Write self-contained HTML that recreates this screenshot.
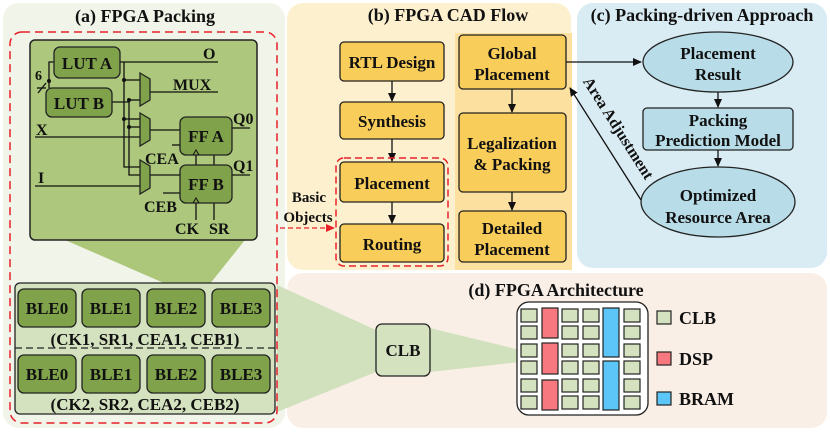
<!DOCTYPE html>
<html><head><meta charset="utf-8"><style>
html,body{margin:0;padding:0;background:#fff}
svg text{font-family:"Liberation Serif","Times New Roman","DejaVu Serif",serif;font-weight:bold}
</style></head><body>
<svg width="830" height="431" viewBox="0 0 830 431" xmlns="http://www.w3.org/2000/svg" font-family="Liberation Serif, serif" font-weight="bold">
<defs>
<marker id="ar" markerWidth="10" markerHeight="10" refX="8" refY="5" orient="auto" markerUnits="userSpaceOnUse"><path d="M0,1 L9,5 L0,9 Z" fill="#111"/></marker>
<marker id="arr" markerWidth="10" markerHeight="10" refX="8" refY="5" orient="auto" markerUnits="userSpaceOnUse"><path d="M0,1 L9,5 L0,9 Z" fill="#e8202a"/></marker>
</defs>
<rect x="3" y="3" width="282" height="425" rx="16" fill="#f1f4e8"/>
<rect x="287" y="3" width="284" height="267" rx="16" fill="#fdf0cf"/>
<rect x="577" y="3" width="250" height="265" rx="16" fill="#d9ecf3"/>
<rect x="287" y="273" width="540" height="155" rx="16" fill="#faefe7"/>
<path d="M455,33 L572,33 L572,270 L455,270 Z" fill="#fbe0a0"/>

<polygon points="277,285 376,330 376,372 277,412" fill="#d2e1bd"/>
<polygon points="430,328 520,350 520,362 430,372" fill="#d2e1bd"/>

<text x="145" y="22" font-size="18" text-anchor="middle" fill="#111">(a) FPGA Packing</text>
<polygon points="65,240 245,240 205,290 180,290" fill="#adc77a"/>
<rect x="15" y="283" width="260" height="131" rx="5" fill="#d5e2c0" stroke="#222" stroke-width="1.3"/>
<rect x="30" y="40" width="227" height="200" rx="5" fill="#adc87c" stroke="#222" stroke-width="1.5"/>
<g stroke="#111" stroke-width="1.3" fill="none">
<path d="M120,62 H218"/><path d="M124,62 V167 H140"/><path d="M112,102 H129 V175 H140"/>
<path d="M124,80 H140"/><path d="M129,100 H140"/><path d="M124,119 H140"/><path d="M129,127 H140"/>
<path d="M150,92 H218"/><path d="M35,137 H140"/><path d="M150,130 H180"/><path d="M35,186 H140"/><path d="M150,175 H180"/>
<path d="M232,128 H250"/><path d="M232,175 H250"/><path d="M172,145 H180"/><path d="M163,193 H180"/>
<path d="M196,155 V165"/><path d="M214,155 V165"/><path d="M196,203 V220"/><path d="M214,203 V220"/>
<path d="M54,62 H49 V88"/><path d="M37,88 H46"/><path d="M38,93 L46,83"/>
</g>
<g fill="#111"><circle cx="124" cy="80" r="2"/><circle cx="129" cy="100" r="2"/><circle cx="124" cy="119" r="2"/><circle cx="129" cy="127" r="2"/><circle cx="49" cy="81" r="2"/></g>
<g fill="#7fa24a" stroke="#222" stroke-width="1.3">
<rect x="54" y="47" width="66" height="31" rx="6"/>
<rect x="46" y="88" width="66" height="29" rx="6"/>
<polygon points="140,73 150,79 150,100 140,106"/>
<polygon points="140,113 150,119 150,140 140,146"/>
<polygon points="140,160 150,166 150,188 140,194"/>
<rect x="180" y="117" width="52" height="38" rx="6"/>
<rect x="180" y="165" width="52" height="38" rx="6"/>
</g>
<g stroke="#111" stroke-width="1" fill="none"><path d="M193,155 L196,150 L199,155"/><path d="M193,203 L196,198 L199,203"/></g>
<g font-size="17" fill="#111" text-anchor="middle">
<text x="87" y="69">LUT A</text><text x="79" y="109">LUT B</text>
<text x="206" y="142">FF A</text><text x="206" y="190">FF B</text>
</g>
<g font-size="16" fill="#111">
<text x="203" y="59">O</text><text x="173" y="90">MUX</text><text x="233" y="124">Q0</text><text x="233" y="171">Q1</text>
<text x="36" y="135">X</text><text x="38" y="183">I</text><text x="35" y="80" font-size="14">6</text>
<text x="145" y="164">CEA</text><text x="144" y="212">CEB</text><text x="175" y="234">CK</text><text x="209" y="234">SR</text>
</g>
<g fill="#7fa24a" stroke="#222" stroke-width="1.3">
<rect x="18" y="289" width="58" height="38" rx="6"/><rect x="82" y="289" width="58" height="38" rx="6"/><rect x="147" y="289" width="58" height="38" rx="6"/><rect x="212" y="289" width="58" height="38" rx="6"/>
<rect x="18" y="355" width="58" height="38" rx="6"/><rect x="82" y="355" width="58" height="38" rx="6"/><rect x="147" y="355" width="58" height="38" rx="6"/><rect x="212" y="355" width="58" height="38" rx="6"/>
</g>
<g font-size="17" fill="#111" text-anchor="middle">
<text x="47" y="314">BLE0</text><text x="111" y="314">BLE1</text><text x="176" y="314">BLE2</text><text x="241" y="314">BLE3</text>
<text x="47" y="380">BLE0</text><text x="111" y="380">BLE1</text><text x="176" y="380">BLE2</text><text x="241" y="380">BLE3</text>
<text x="145" y="345">(CK1, SR1, CEA1, CEB1)</text>
<text x="145" y="410">(CK2, SR2, CEA2, CEB2)</text>
</g>
<path d="M15,348 H275" stroke="#222" stroke-width="1.3" stroke-dasharray="7,4"/>
<rect x="10" y="32" width="267" height="391" rx="12" fill="none" stroke="#e8202a" stroke-width="1.5" stroke-dasharray="8,5"/>

<text x="448" y="21" font-size="18" text-anchor="middle" fill="#111">(b)  FPGA CAD Flow</text>
<g fill="#f9cd5a" stroke="#222" stroke-width="1.3">
<rect x="340" y="42" width="104" height="39" rx="4"/><rect x="340" y="102" width="104" height="37" rx="4"/>
<rect x="340" y="162" width="104" height="40" rx="4"/><rect x="340" y="224" width="104" height="38" rx="4"/>
<rect x="459" y="35" width="107" height="54" rx="4"/><rect x="459" y="113" width="107" height="79" rx="4"/><rect x="459" y="211" width="107" height="51" rx="4"/>
</g>
<g stroke="#111" stroke-width="1.3" marker-end="url(#ar)">
<path d="M392,81 V101"/><path d="M392,139 V161"/><path d="M392,202 V223"/><path d="M512,89 V112"/><path d="M512,192 V210"/>
</g>
<g font-size="17" fill="#111" text-anchor="middle">
<text x="392" y="68">RTL Design</text><text x="392" y="127">Synthesis</text><text x="392" y="189">Placement</text><text x="392" y="250">Routing</text>
<text x="512" y="59">Global</text><text x="512" y="80">Placement</text>
<text x="512" y="149">Legalization</text><text x="512" y="170">&amp; Packing</text>
<text x="512" y="234">Detailed</text><text x="512" y="255">Placement</text>
</g>
<rect x="336" y="158" width="112" height="108" rx="8" fill="none" stroke="#e8202a" stroke-width="1.5" stroke-dasharray="7,4"/>
<g font-size="15" fill="#111" text-anchor="middle"><text x="309" y="202">Basic</text><text x="308" y="222">Objects</text></g>
<path d="M280,228 H334" stroke="#e8202a" stroke-width="1.3" stroke-dasharray="5,3" marker-end="url(#arr)"/>

<text x="702" y="21" font-size="18" text-anchor="middle" fill="#111">(c)  Packing-driven Approach</text>
<g fill="#b9dde8" stroke="#222" stroke-width="1.3">
<ellipse cx="718" cy="62" rx="75" ry="30"/>
<rect x="643" y="108" width="150" height="42" rx="4"/>
<ellipse cx="718" cy="202" rx="77" ry="35"/>
</g>
<g stroke="#111" stroke-width="1.3" marker-end="url(#ar)">
<path d="M566,62 H641"/><path d="M718,92 V107"/><path d="M718,150 V166"/><path d="M641,200 L570,88"/>
</g>
<g font-size="17" fill="#111" text-anchor="middle">
<text x="718" y="59">Placement</text><text x="718" y="80">Result</text>
<text x="718" y="126">Packing</text><text x="718" y="146">Prediction Model</text>
<text x="718" y="201">Optimized</text><text x="718" y="223">Resource  Area</text>
</g>
<text x="0" y="0" font-size="16" fill="#111" text-anchor="middle" transform="translate(614,131) rotate(57.6)">Area Adjustment</text>

<text x="556" y="296" font-size="18" text-anchor="middle" fill="#111">(d) FPGA Architecture</text>
<rect x="376" y="324" width="54" height="52" rx="6" fill="#d5e2c0" stroke="#222" stroke-width="1.3"/>
<text x="403" y="356" font-size="17" text-anchor="middle" fill="#111">CLB</text>
<rect x="517" y="302" width="131" height="113" rx="12" fill="#fff" stroke="#222" stroke-width="1.3"/>
<g fill="#d5e2c0" stroke="#222" stroke-width="1.2">
<rect x="521" y="309" width="16" height="13"/><rect x="521" y="326" width="16" height="13"/><rect x="521" y="344" width="16" height="13"/><rect x="521" y="361" width="16" height="13"/><rect x="521" y="379" width="16" height="13"/><rect x="521" y="396" width="16" height="13"/>
<rect x="562" y="309" width="16" height="13"/><rect x="562" y="326" width="16" height="13"/><rect x="562" y="344" width="16" height="13"/><rect x="562" y="361" width="16" height="13"/><rect x="562" y="379" width="16" height="13"/><rect x="562" y="396" width="16" height="13"/>
<rect x="583" y="309" width="16" height="13"/><rect x="583" y="326" width="16" height="13"/><rect x="583" y="344" width="16" height="13"/><rect x="583" y="361" width="16" height="13"/><rect x="583" y="379" width="16" height="13"/><rect x="583" y="396" width="16" height="13"/>
<rect x="624" y="309" width="16" height="13"/><rect x="624" y="326" width="16" height="13"/><rect x="624" y="344" width="16" height="13"/><rect x="624" y="361" width="16" height="13"/><rect x="624" y="379" width="16" height="13"/><rect x="624" y="396" width="16" height="13"/>
<rect x="657" y="311" width="14" height="13"/>
</g>
<g fill="#f87880" stroke="#222" stroke-width="1.2">
<rect x="542" y="308" width="16" height="30"/><rect x="542" y="343" width="16" height="31"/><rect x="542" y="380" width="16" height="30"/>
<rect x="657" y="352" width="14" height="13"/>
</g>
<g fill="#5cc6f8" stroke="#222" stroke-width="1.2">
<rect x="603" y="308" width="16" height="49"/><rect x="603" y="361" width="16" height="49"/>
<rect x="657" y="392" width="14" height="13"/>
</g>
<g font-size="18" fill="#111">
<text x="679" y="324">CLB</text><text x="679" y="365">DSP</text><text x="679" y="405">BRAM</text>
</g>
</svg>
</body></html>
